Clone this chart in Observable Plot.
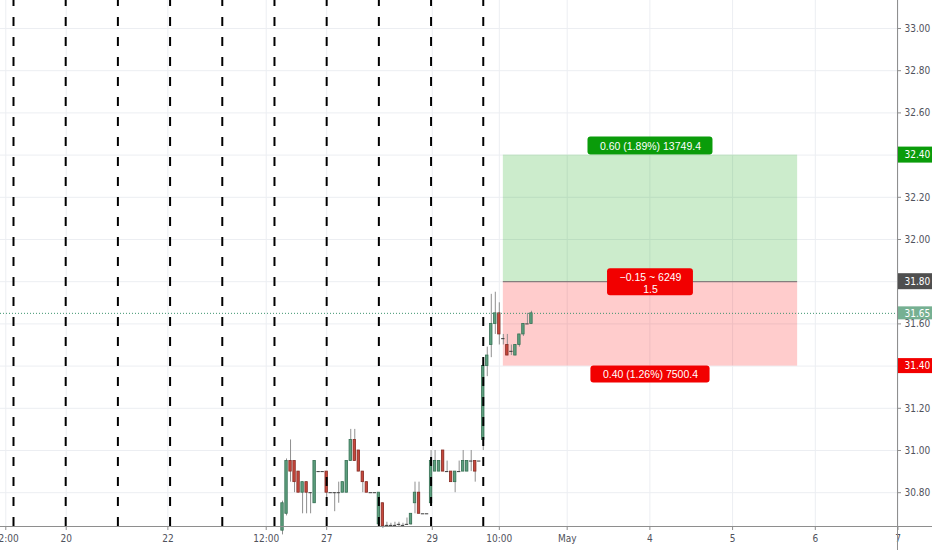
<!DOCTYPE html>
<html>
<head>
<meta charset="utf-8">
<script src="https://cdn.jsdelivr.net/npm/d3@7"></script>
<script src="https://cdn.jsdelivr.net/npm/@observablehq/plot@0.6"></script>
<style>
  html, body { margin: 0; padding: 0; background: #fff; overflow: hidden; }
</style>
</head>
<body>
<div id="chart"></div>
<script>
// ---------- DATA (30‑minute bars, bar index = position on the time axis) ----------
const candleBar = [67,68,69,70,71,72,73,74,75,76,77,
  78,79,80,81,82,83,84,85,86,87,88,89,90,
  91,92,93,94,95,96,97,98,99,100,101,102,103,
  104,105,106,107,108,109,110,111,112,113,114,115,116,
  117,118,119,120,121,122,123,124,125,126,127,128,129];
const candleOpen = [30.62,30.70,30.95,30.95,30.90,30.80,30.85,30.80,30.75,30.90,30.90,
  30.90,30.80,30.80,30.80,30.80,30.80,30.95,31.05,31.00,30.90,30.85,30.80,30.80,
  30.65,30.75,30.645,30.645,30.645,30.65,30.645,30.65,30.65,30.75,30.80,30.70,30.70,
  30.75,30.90,30.90,31.00,30.90,30.90,30.85,30.90,30.90,30.90,30.95,30.95,30.95,
  31.05,31.40,31.50,31.60,31.65,31.53,31.50,31.47,31.45,31.50,31.55,31.60,31.60];
const candleHigh = [30.76,30.96,31.05,30.95,30.90,30.85,30.85,30.80,30.95,30.90,30.90,
  30.90,30.80,30.80,30.85,30.85,30.95,31.10,31.10,31.00,30.90,30.85,30.80,30.80,
  30.80,30.75,30.66,30.655,30.66,30.66,30.655,30.68,30.70,30.85,30.85,30.70,30.70,
  31.00,31.00,30.95,31.00,30.95,30.90,30.90,30.95,31.00,30.95,31.00,30.95,30.95,
  31.41,31.49,31.74,31.75,31.70,31.55,31.55,31.50,31.50,31.55,31.60,31.65,31.66];
const candleLow = [30.60,30.69,30.85,30.80,30.80,30.70,30.70,30.70,30.75,30.90,30.90,
  30.75,30.80,30.71,30.75,30.80,30.80,30.95,30.95,30.90,30.80,30.80,30.80,30.80,
  30.64,30.63,30.64,30.64,30.64,30.64,30.64,30.645,30.645,30.70,30.70,30.70,30.70,
  30.75,30.90,30.90,30.90,30.90,30.85,30.80,30.90,30.90,30.90,30.90,30.85,30.95,
  31.00,31.35,31.44,31.55,31.50,31.50,31.45,31.45,31.45,31.49,31.54,31.60,31.60];
const candleClose = [30.75,30.95,30.90,30.85,30.80,30.85,30.80,30.80,30.95,30.90,30.90,
  30.80,30.80,30.80,30.80,30.85,30.95,31.05,30.95,30.90,30.85,30.80,30.80,30.80,
  30.80,30.64,30.645,30.645,30.645,30.65,30.645,30.65,30.70,30.80,30.70,30.70,30.70,
  30.95,30.95,30.95,30.90,30.90,30.85,30.90,30.90,30.95,30.95,30.95,30.90,30.95,
  31.40,31.45,31.60,31.65,31.55,31.53,31.45,31.47,31.50,31.55,31.60,31.60,31.65];

// session (day) break lines, every 13 bars
const dayStartBars = [0,13,26,39,52,65,78,91,104,117];

// time-axis ticks
const xTickBars   = [-1.92, 13.13, 38.45, 62.94, 78, 104.3, 121, 137.9, 158.5, 179.1, 199.7, 220.3];
const xTickLabels = ["12:00","20","22","12:00","27","29","10:00","May","4","5","6","7"];

// price-axis ticks
const priceTicks = [30.8, 31.0, 31.2, 31.4, 31.6, 31.8, 32.0, 32.2, 32.4, 32.6, 32.8, 33.0];

// long-position tool
const positionStartBar = 122;
const positionEndBar = 195.3;
const entryPrice = 31.80;
const targetPrice = 32.40;
const stopPrice = 31.40;
const lastPrice = 31.65;
const targetLabel = "0.60 (1.89%) 13749.4";
const middleLabel = "\u22120.15 ~ 6249\n1.5";
const stopLabel = "0.40 (1.26%) 7500.4";

// right-axis price badges
const badgePrices = [32.40, 31.80, 31.65, 31.40];
const badgeTexts  = ["32.40", "31.80", "31.65", "31.40"];

// ---------- STYLE ----------
const badgeColors = ["#0a9c0a", "#4f4f4f", "#76b092", "#f20000"];
const badgeHeights = [16, 16, 13, 15];
const X0 = -3.238, X1 = 228.89;          // visible time domain (bars)
const AXIS_BAR = 220.17;                 // where the price scale starts
const Y0 = 30.6398, Y1 = 33.1327;        // visible price domain
const Y_SVG_BOTTOM = 30.526;
const AXIS_FONT = "'Liberation Sans Narrow', 'DejaVu Sans Condensed', 'Liberation Sans', Arial, sans-serif";
const LABEL_FONT = "'Liberation Sans', Arial, sans-serif";
const LABEL_SIZE = 10.5;
const GRID = "#eceef2";
const AXIS_LINE = "#8e8e8e";
const AXIS_TEXT = "#4f525c";
const UP_FILL = "#5d9f7e", UP_STROKE = "#356f53";
const DN_FILL = "#c7473c", DN_STROKE = "#852b23";

const ctx = document.createElement("canvas").getContext("2d");
function textWidth(t, size, family) {
  ctx.font = `${size}px ${family}`;
  return Math.max(...t.split("\n").map(s => ctx.measureText(s).width));
}

const candles = candleBar.map((b, i) => ({b, o: candleOpen[i], h: candleHigh[i], l: candleLow[i], c: candleClose[i]}));
const up = candles.filter(d => d.c > d.o);
const down = candles.filter(d => d.c < d.o);
const flat = candles.filter(d => d.c === d.o);
const midBar = (positionStartBar + positionEndBar) / 2;
const tickLabelMap = new Map(xTickBars.map((b, i) => [b, xTickLabels[i]]));

function labelBox(text, price, color, insetTop, insetBottom) {
  const half = textWidth(text, LABEL_SIZE, LABEL_FONT) / 2 + 12;
  return Plot.rect([price], {
    x1: midBar, x2: midBar, y1: d => d, y2: d => d,
    insetLeft: -half, insetRight: -half, insetTop, insetBottom,
    rx: 3, fill: color
  });
}
function labelText(text, price, dy) {
  return Plot.text([text], {
    x: midBar, y: price, text: d => d, dy, fill: "#fff",
    fontSize: LABEL_SIZE, fontFamily: LABEL_FONT, lineHeight: 1.15
  });
}

const marks = [
  // grid
  Plot.ruleY(priceTicks, {x1: X0, x2: AXIS_BAR, stroke: GRID}),
  Plot.ruleX(xTickBars, {y1: Y0, y2: Y1, stroke: GRID}),
  // position zones
  Plot.rect([0], {x1: positionStartBar, x2: positionEndBar, y1: entryPrice, y2: targetPrice, fill: "#00a000", fillOpacity: 0.2}),
  Plot.rect([0], {x1: positionStartBar, x2: positionEndBar, y1: stopPrice, y2: entryPrice, fill: "#ff0000", fillOpacity: 0.2}),
  Plot.ruleY([entryPrice], {x1: positionStartBar, x2: positionEndBar, stroke: "#6e6e6e"}),
  // candles
  Plot.ruleX(candles, {x: "b", y1: "l", y2: "h", stroke: "#8f8f8f", strokeWidth: 1}),
  Plot.rect(up, {x1: d => d.b - 0.3, x2: d => d.b + 0.3, y1: "o", y2: "c", fill: UP_FILL, stroke: UP_STROKE, strokeWidth: 0.8}),
  Plot.rect(down, {x1: d => d.b - 0.3, x2: d => d.b + 0.3, y1: "o", y2: "c", fill: DN_FILL, stroke: DN_STROKE, strokeWidth: 0.8}),
  Plot.ruleY(flat, {y: "c", x1: d => d.b - 0.42, x2: d => d.b + 0.42, stroke: "#3a3a3a", strokeWidth: 1}),
  // session breaks
  Plot.ruleX(dayStartBars, {y1: Y0, y2: Y1, stroke: "#000", strokeWidth: 2, strokeDasharray: "9,11"}),
  // last price dotted line
  Plot.ruleY([lastPrice], {x1: X0, x2: AXIS_BAR, stroke: "#3f9470", strokeDasharray: "1,2"}),
  // position labels
  labelBox(targetLabel, targetPrice, "#0a9c0a", -18, 0),
  labelText(targetLabel, targetPrice, -9),
  labelBox(middleLabel, entryPrice, "#f20000", -13, -14),
  labelText(middleLabel, entryPrice, 1),
  labelBox(stopLabel, stopPrice, "#f20000", 0, -17),
  labelText(stopLabel, stopPrice, 8.5),
  // axes
  Plot.ruleY([Y0], {x1: X0, x2: X1, stroke: AXIS_LINE}),
  Plot.axisX(xTickBars, {
    tickFormat: d => tickLabelMap.get(d), tickSize: 4, tickPadding: 4,
    stroke: AXIS_LINE, fill: AXIS_TEXT, fontSize: 10, fontFamily: AXIS_FONT, label: null
  }),
  Plot.ruleY(priceTicks, {x1: AXIS_BAR, x2: AXIS_BAR + 1, stroke: AXIS_LINE}),
  Plot.text(priceTicks, {x: AXIS_BAR, y: d => d, text: d => d.toFixed(2), dx: 7, textAnchor: "start",
    fill: AXIS_TEXT, fontSize: 10, fontFamily: AXIS_FONT}),
  ...badgePrices.map((p, i) => Plot.rect([p], {
    x1: AXIS_BAR, x2: X1, y1: d => d, y2: d => d,
    insetTop: -badgeHeights[i] / 2, insetBottom: -badgeHeights[i] / 2, fill: badgeColors[i]
  })),
  ...badgePrices.map((p, i) => Plot.text([p], {
    x: AXIS_BAR, y: d => d, text: () => badgeTexts[i], dx: 7, textAnchor: "start",
    fill: "#fff", fontSize: 10, fontFamily: AXIS_FONT
  })),
  Plot.ruleX([AXIS_BAR], {y1: Y_SVG_BOTTOM, y2: Y1, stroke: AXIS_LINE})
];

const chart = Plot.plot({
  width: 932,
  height: 550,
  marginLeft: 0, marginRight: 0, marginTop: 0, marginBottom: 24,
  x: {type: "linear", domain: [X0, X1]},
  y: {domain: [Y0, Y1], axis: null},
  style: {background: "#fff", fontFamily: AXIS_FONT, overflow: "visible"},
  marks
});
document.getElementById("chart").append(chart);
</script>
</body>
</html>
